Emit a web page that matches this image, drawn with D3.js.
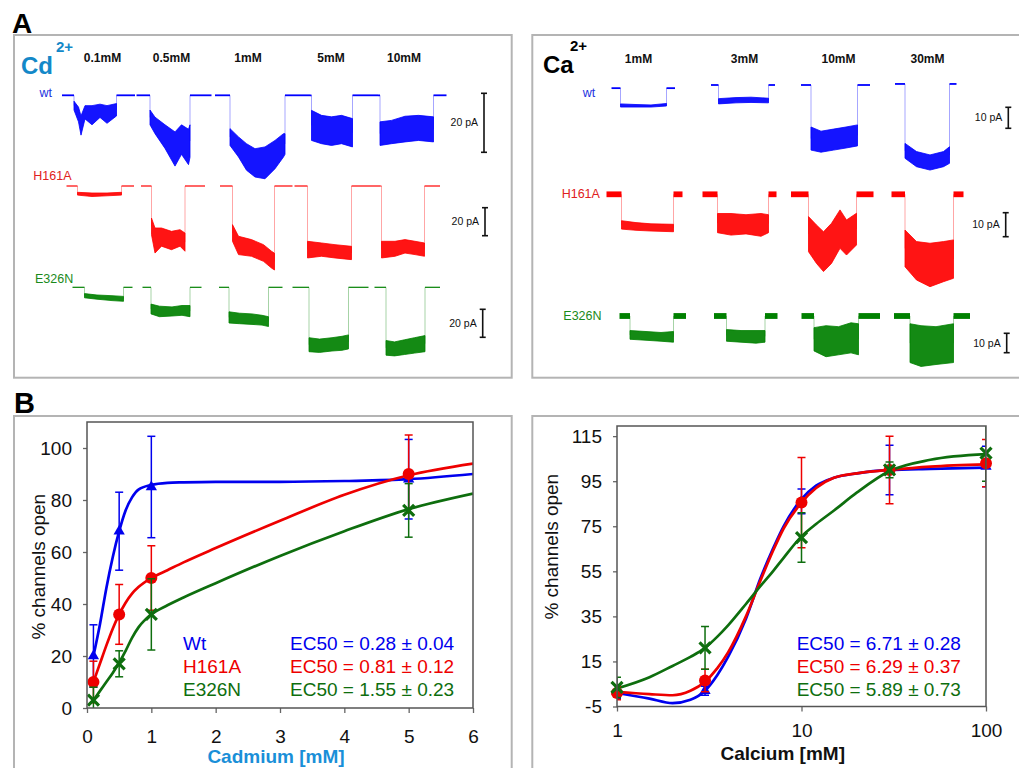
<!DOCTYPE html>
<html>
<head>
<meta charset="utf-8">
<script src="https://cdn.jsdelivr.net/npm/d3@7"></script>
<style>
  body { margin: 0; background: #fff; }
  svg { display: block; font-family: "Liberation Sans", Arial, sans-serif; }
</style>
</head>
<body>
<div id="fig"></div>
<script>
// ---------- panel A: current traces (time in s, current in pA) ----------
const cdConc = ["0.1mM", "0.5mM", "1mM", "5mM", "10mM"];
const cdConcT = [8.1, 21.9, 37.2, 53.8, 68.4];   // time under which each label sits
const caConc = ["1mM", "3mM", "10mM", "30mM"];
const caConcT = [6.5, 27.7, 46.5, 64.3];
const rowNames = ["wt", "H161A", "E326N"];

// each segment: on/off = time window, env = [t, upper, lower] of the blocked current
const cdWt = [
  { on: 0, off: 14.6, env: [[2.4, -2, -5], [3.3, -4, -9], [3.8, -7, -13.5], [4.6, -3.5, -8], [6, -3.5, -10], [7.6, -3, -7.5], [9, -3.5, -9.5], [10.9, -2.8, -7]] },
  { on: 14.9, off: 29.9, env: [[17.6, -5, -10], [18.6, -7.4, -13], [20.6, -10, -18], [22.6, -12.4, -24], [23.9, -10, -20], [25.3, -11.5, -23.5], [25.6, -10, -21]] },
  { on: 30.6, off: 49.6, env: [[33.6, -11.3, -17], [35.3, -14.1, -20.9], [36.9, -16.4, -25.4], [38.6, -18.1, -27.7], [40.6, -17.5, -28.3], [42.6, -15.3, -24.9], [44.3, -13, -20.9], [44.6, -13, -20]] },
  { on: 49.6, off: 63.2, env: [[49.9, -5.1, -15.3], [51.9, -6.8, -16.4], [53.9, -7.3, -17], [55.9, -6.8, -16.4], [58.1, -7.9, -17.5]] },
  { on: 63.2, off: 76.9, env: [[63.6, -9, -17], [65.9, -8.5, -16.4], [68.6, -7.1, -15.8], [71.3, -6.8, -15.3], [74.3, -7.3, -15.8]] }
];
const cdH161A = [
  { on: 0.9, off: 14.4, env: [[3.1, -4.5, -6.5], [6, -5, -7.5], [9, -5, -7], [11.9, -4.5, -6.5]] },
  { on: 15.8, off: 28.6, env: [[17.9, -22.9, -34.8], [18.6, -30, -47.9], [19.9, -30, -43], [21.9, -32.4, -45.5], [23.6, -31.2, -43], [24.6, -33.6, -46.6]] },
  { on: 31.6, off: 46.1, env: [[34.1, -27.6, -39.5], [35.3, -35.9, -49], [37.9, -38.3, -50.2], [40.3, -41.9, -53.8], [41.9, -46.6, -58.6], [42.5, -48, -60]] },
  { on: 46.5, off: 63.6, env: [[49.1, -39.5, -51.4], [51.9, -40.7, -50.2], [54.6, -41.9, -51.4], [57.9, -43.1, -52.6]] },
  { on: 63.6, off: 75.6, env: [[63.9, -39.5, -51.4], [66.6, -39.5, -50.2], [68.6, -38.3, -47.9], [70.6, -39.5, -49], [72.5, -40.7, -50.2]] }
];
const cdE326N = [
  { on: 2.1, off: 14.1, env: [[4.5, -4.5, -7.5], [7, -5.5, -8.5], [10, -6, -9.5], [12.3, -6.5, -10]] },
  { on: 16.1, off: 27.9, env: [[17.8, -12, -19], [19.5, -13.5, -21], [22, -14, -20.5], [24, -13, -20], [25.6, -13, -21]] },
  { on: 31.4, off: 44.1, env: [[33.4, -17.5, -25.5], [35.5, -18.5, -26], [38, -19, -26.5], [40, -20, -27], [41.3, -21, -28]] },
  { on: 46.1, off: 61.3, env: [[49.4, -36, -46], [51.5, -37, -46.5], [54, -36, -45.5], [56, -35, -45], [57.3, -34, -44]] },
  { on: 62.5, off: 75.6, env: [[64.8, -38, -48.5], [66.5, -39, -49], [68.5, -37.5, -48], [70.5, -36, -47], [72.6, -34.5, -46]] }
];

const caWt = [
  { on: 1.1, off: 13.8, base: -1.5, env: [[2.9, -9, -10.5], [6, -9.3, -10.5], [9, -9.5, -10.5], [12.1, -8.8, -10]] },
  { on: 21, off: 33.8, env: [[22.5, -6.5, -9], [26, -6, -8.5], [29, -5.8, -8.3], [32.5, -6.3, -8.5]] },
  { on: 39, off: 52.8, env: [[41, -20, -31], [43, -22, -32], [45.5, -21, -31], [48, -20, -30], [50.3, -19, -29]] },
  { on: 57.8, off: 70.1, base: 0.5, env: [[59.8, -27.8, -34.9], [62.1, -31.7, -38.9], [64.8, -33.3, -40.5], [67.5, -31.7, -38.9], [68.7, -29.4, -37.3]] }
];
const caH161A = [
  { on: 0.1, off: 15.3, env: [[3.1, -11, -14.5], [6, -11.8, -15], [9, -12.3, -15.3], [13.5, -12.5, -15.6]] },
  { on: 19.3, off: 34.1, env: [[22.3, -8, -16], [25, -8, -17], [28, -8.5, -16.5], [31, -8, -17.5], [32.5, -8.5, -16]] },
  { on: 37, off: 53.5, env: [[40.5, -9.3, -23.9], [42.1, -12.8, -28.8], [43.5, -15.6, -32.2], [45.1, -12.1, -28.8], [46.8, -6.5, -22.5], [48.1, -10.7, -25.3], [50.1, -7.9, -21.1]] },
  { on: 57.1, off: 71.5, env: [[59.8, -14.9, -30.2], [62.1, -19.7, -35.7], [64.8, -20.4, -38.5], [67.5, -19.7, -36.4], [69.5, -19, -35]] }
];
const caE326N = [
  { on: 2.7, off: 16, env: [[4.8, -7.5, -12], [8, -8, -12.5], [11, -8.5, -13], [13.5, -8, -13.5]] },
  { on: 21.6, off: 34.3, env: [[24.1, -7, -13], [27, -7.5, -13.5], [30, -7.5, -14], [31.8, -7.5, -13.5]] },
  { on: 39.1, off: 54.8, env: [[41.6, -6, -18], [44, -5, -21], [46.5, -5.5, -20], [49, -3.5, -19], [50.5, -4, -20]] },
  { on: 57.6, off: 72.8, env: [[60.8, -4, -24], [63, -5, -26], [66, -5.5, -25], [69.5, -4, -24]] }
];
const cdNoise = [0, 0, 0];       // baseline noise, pA
const caNoise = [0.3, 1.2, 1.5];
const cdBar = 20, caBar = 10;    // scale bars, pA

// ---------- panel B: dose response ----------
const cdX = [0.1, 0.5, 1, 5];
const cdWtY = [20, 68, 85, 88], cdWtErr = [12, 15, 19.5, 15.3];
const cdH161AY = [10, 36, 50, 90], cdH161AErr = [8, 11.5, 12.4, 15];
const cdE326NY = [3, 17, 36, 76], cdE326NErr = [5, 5, 13.7, 10.3];
const cdFitX = [0.1, 0.2, 0.3, 0.4, 0.5, 0.6, 0.7, 0.8, 1, 1.25, 1.5, 2, 3, 4, 5, 6];
const cdWtFit = [20, 32, 46, 58, 68, 76, 81, 84, 85.8, 86.6, 86.8, 87, 87, 87.3, 88, 90];
const cdH161AFit = [10, 17, 24, 30.5, 36, 40.5, 44, 46.5, 50, 53, 56, 61.5, 72, 82, 89.5, 94];
const cdE326NFit = [3, 6.5, 10, 13.5, 17.5, 22, 27, 31, 36, 39.5, 42.5, 48, 58.5, 68, 76.5, 82.5];
const cdEC50 = ["EC50 = 0.28 \u00b1 0.04", "EC50 = 0.81 \u00b1 0.12", "EC50 = 1.55 \u00b1 0.23"];

const caX = [1, 3, 10, 30, 100];
const caWtY = [1.5, 2, 86, 100, 101.5], caWtErr = [3, 2, 5.5, 11, 9];
const caH161AY = [1, 6.5, 85.5, 100, 103], caH161AErr = [3, 5, 20, 15, 10.5];
const caE326NY = [3.5, 21, 70, 100, 107.5], caE326NErr = [4.5, 9.5, 11, 3.5, 12.5];
const caFitX = [1, 1.5, 2, 2.5, 3, 3.5, 4, 5, 6, 7, 8, 10, 12, 15, 20, 30, 50, 100];
const caWtFit = [1, -1.5, -3.5, -2, 2, 9, 17, 34, 52, 65, 75, 87, 93, 96.5, 98.5, 100, 100.5, 101];
const caH161AFit = [1.5, 0.5, 0, 2, 6, 12, 19, 35, 51, 64, 74, 85.5, 92, 96.5, 98.5, 100, 101.5, 102.5];
const caE326NFit = [3, 8, 13, 17, 21, 26, 31, 40.5, 48.5, 55, 61, 70.5, 76, 82, 90, 99.5, 104.5, 107];
const caEC50 = ["EC50 = 6.71 \u00b1 0.28", "EC50 = 6.29 \u00b1 0.37", "EC50 = 5.89 \u00b1 0.73"];

const traceColors = ["#0000ff", "#ff0000", "#008000"];
const labelColors = ["#2233e0", "#e02020", "#1a8a1a"];
const fitColors = ["#0000ee", "#ee0000", "#0e6e0e"];

// ---------- drawing ----------
const W = 1019, H = 768;
const svg = d3.select("#fig").append("svg").attr("width", W).attr("height", H);
svg.append("rect").attr("width", W).attr("height", H).attr("fill", "#fff");

// frames
[[14, 35, 497.7, 342.7], [532.3, 35, 500, 342.7], [14, 416, 497.7, 360], [532.3, 416, 500, 360]]
  .forEach(b => svg.append("rect").attr("x", b[0]).attr("y", b[1]).attr("width", b[2]).attr("height", b[3])
    .attr("fill", "none").attr("stroke", "#b4b4b4").attr("stroke-width", 2));

svg.append("text").attr("x", 12).attr("y", 33).attr("font-size", 28).attr("font-weight", "bold").text("A");
svg.append("text").attr("x", 14).attr("y", 413).attr("font-size", 29).attr("font-weight", "bold").text("B");

function ion(g, x, baseY, sym, color) {
  g.append("text").attr("x", x).attr("y", baseY).attr("font-size", 24).attr("font-weight", "bold")
    .attr("fill", color).text(sym);
}

function traces(g, x, rows, noise, conc, concT) {
  rows.forEach((r, ri) => {
    const y = d3.scaleLinear().domain([0, -20]).range([r.y0, r.y0 + 20 * r.k]);
    const col = traceColors[ri];
    const n = noise[ri];
    r.segs.forEach(s => {
      const b = s.base || 0;
      const e = s.env;
      const drop = e[0][0], rise = e[e.length - 1][0];
      const mid0 = (e[0][1] + e[0][2]) / 2, mid1 = (e[e.length - 1][1] + e[e.length - 1][2]) / 2;
      // transitions (fast, faint)
      g.append("path")
        .attr("d", d3.line()([[x(drop), y(b)], [x(drop), y(mid0)]]) + d3.line()([[x(rise), y(mid1)], [x(rise), y(b)]]))
        .attr("stroke", col).attr("stroke-opacity", 0.35).attr("stroke-width", 1).attr("fill", "none");
      // baselines
      [[s.on, drop], [rise, s.off]].forEach(p => {
        if (n > 0.5) {
          g.append("rect").attr("x", x(p[0])).attr("width", x(p[1]) - x(p[0]))
            .attr("y", y(b + n)).attr("height", y(b - n) - y(b + n)).attr("fill", col);
        } else {
          g.append("line").attr("x1", x(p[0])).attr("x2", x(p[1])).attr("y1", y(b)).attr("y2", y(b))
            .attr("stroke", col).attr("stroke-width", ri === 0 ? 1.8 : 1.2);
        }
      });
      // blocked-current envelope
      g.append("path").datum(e)
        .attr("d", d3.area().x(d => x(d[0])).y0(d => y(d[2])).y1(d => y(d[1])))
        .attr("fill", col).attr("fill-opacity", 0.92)
        .attr("stroke", col).attr("stroke-width", 0.8);
    });
    // row label
    g.append("text").attr("x", r.lx).attr("y", r.ly).attr("font-size", 12.5)
      .attr("fill", labelColors[ri]).text(rowNames[ri]);
    // scale bar
    const len = y(-r.bar) - y(0);
    const bar = g.append("g").attr("stroke", "#111").attr("stroke-width", 1.6);
    bar.append("line").attr("x1", r.bx).attr("x2", r.bx).attr("y1", r.by).attr("y2", r.by + len);
    [r.by, r.by + len].forEach(v => bar.append("line").attr("x1", r.bx - 3).attr("x2", r.bx + 3).attr("y1", v).attr("y2", v));
    g.append("text").attr("x", r.bx - 6).attr("y", r.by + len / 2).attr("dy", "0.35em")
      .attr("text-anchor", "end").attr("font-size", 10.5).attr("fill", "#111").text(r.bar + " pA");
  });
  // concentration labels
  conc.forEach((c, i) => {
    g.append("text").attr("x", x(concT[i])).attr("y", rows[0].cy).attr("text-anchor", "middle")
      .attr("font-size", 12).attr("font-weight", "bold").attr("fill", "#111").text(c);
  });
}

// Cd traces
const gCd = svg.append("g");
ion(gCd, 21, 74, "Cd", "#1388c8");
gCd.append("text").attr("x", 56).attr("y", 51.7).attr("font-size", 15).attr("font-weight", "bold").attr("fill", "#1388c8").text("2+");
const xCd = d3.scaleLinear().domain([0, 77]).range([62, 447]);
traces(gCd, xCd, [
  { segs: cdWt, y0: 95.3, k: 2.95, lx: 39.5, ly: 96.7, bx: 484, by: 93.3, bar: cdBar, cy: 61.7 },
  { segs: cdH161A, y0: 186, k: 1.4, lx: 33.3, ly: 180, bx: 485, by: 207.7, bar: cdBar },
  { segs: cdE326N, y0: 287.3, k: 1.4, lx: 35, ly: 283.3, bx: 482.7, by: 309.3, bar: cdBar }
], cdNoise, cdConc, cdConcT);

// Ca traces
const gCa = svg.append("g");
ion(gCa, 543, 72.7, "Ca", "#000");
gCa.append("text").attr("x", 570).attr("y", 50.7).attr("font-size", 15).attr("font-weight", "bold").text("2+");
const xCa = d3.scaleLinear().domain([0, 73]).range([606, 971]);
traces(gCa, xCa, [
  { segs: caWt, y0: 85, k: 2.1, lx: 582.7, ly: 97, bx: 1008.3, by: 107.3, bar: caBar, cy: 63 },
  { segs: caH161A, y0: 194.3, k: 2.4, lx: 561.7, ly: 198.3, bx: 1005.7, by: 212.7, bar: caBar },
  { segs: caE326N, y0: 316, k: 1.94, lx: 563.3, ly: 320, bx: 1006.7, by: 333.3, bar: caBar }
], caNoise, caConc, caConcT);

// ---------- dose-response plots ----------
function marker(g, type, cx, cy, color) {
  if (type === "triangle") {
    g.append("path").attr("d", d3.symbol(d3.symbolTriangle, 55)()).attr("transform", `translate(${cx},${cy})`).attr("fill", color);
  } else if (type === "circle") {
    g.append("circle").attr("cx", cx).attr("cy", cy).attr("r", 6).attr("fill", color);
  } else {
    const s = 5.5;
    g.append("path").attr("d", `M${cx - s},${cy - s}L${cx + s},${cy + s}M${cx - s},${cy + s}L${cx + s},${cy - s}`)
      .attr("stroke", color).attr("stroke-width", 3.2).attr("fill", "none");
  }
}

function dose(opt) {
  const g = svg.append("g");
  const { x, y, xs, fitX, series } = opt;
  const [x0, x1] = x.range(), [y0, y1] = y.range();
  const clipId = opt.id + "Clip";
  g.append("clipPath").attr("id", clipId).append("rect").attr("x", x0).attr("y", y1).attr("width", x1 - x0).attr("height", y0 - y1);

  const xa = g.append("g").attr("transform", `translate(0,${y0})`).call(opt.xAxis);
  const ya = g.append("g").attr("transform", `translate(${x0},0)`).call(opt.yAxis);
  [xa, ya].forEach(a => {
    a.select(".domain").remove();
    a.selectAll(".tick line").attr("stroke", "#666").attr("stroke-width", 1.3);
    a.selectAll(".tick text").attr("font-size", 19).attr("fill", "#111").attr("font-family", "Liberation Sans, Arial, sans-serif");
  });

  const line = d3.line().x(d => x(d[0])).y(d => y(d[1])).curve(d3.curveMonotoneX);
  const curves = g.append("g").attr("clip-path", `url(#${clipId})`);
  series.forEach(s => {
    curves.append("path").datum(fitX.map((v, i) => [v, s.fit[i]])).attr("d", line)
      .attr("fill", "none").attr("stroke", s.color).attr("stroke-width", 2.7);
  });
  series.forEach(s => {
    const eb = g.append("g").attr("stroke", s.color).attr("stroke-width", 1.5).attr("clip-path", `url(#${clipId})`);
    xs.forEach((v, i) => {
      const cx = x(v), hi = y(s.y[i] + s.err[i]), lo = y(s.y[i] - s.err[i]);
      eb.append("line").attr("x1", cx).attr("x2", cx).attr("y1", hi).attr("y2", lo);
      [hi, lo].forEach(t => eb.append("line").attr("x1", cx - 4).attr("x2", cx + 4).attr("y1", t).attr("y2", t));
    });
    xs.forEach((v, i) => marker(g, s.marker, x(v), y(s.y[i]), s.color));
  });

  g.append("rect").attr("x", x0).attr("y", y1).attr("width", x1 - x0).attr("height", y0 - y1)
    .attr("fill", "none").attr("stroke", "#555").attr("stroke-width", 1.5);

  g.append("text").attr("transform", `translate(${opt.yTitle[0]},${opt.yTitle[1]}) rotate(-90)`)
    .attr("text-anchor", "middle").attr("dy", "0.35em").attr("font-size", 19).attr("fill", "#111").text("% channels open");
  g.append("text").attr("x", opt.xTitle[0]).attr("y", opt.xTitle[1]).attr("dy", "0.35em").attr("text-anchor", "middle")
    .attr("font-size", 19).attr("font-weight", "bold").attr("fill", opt.xTitleColor).text(opt.xLabel);

  series.forEach((s, i) => {
    if (opt.names) g.append("text").attr("x", opt.nameX).attr("y", opt.legY[i]).attr("dy", "0.35em")
      .attr("font-size", 19).attr("fill", s.color).text(opt.names[i]);
    g.append("text").attr("x", opt.ecX).attr("y", opt.legY[i]).attr("dy", "0.35em")
      .attr("font-size", 19).attr("fill", s.color).text(opt.ec[i]);
  });
}

const plain = d => String(d);

const xCdB = d3.scaleLinear().domain([0, 6]).range([87, 473]);
const yCdB = d3.scaleLinear().domain([0, 110]).range([708, 422]);
dose({
  id: "cd", x: xCdB, y: yCdB, xs: cdX, fitX: cdFitX,
  xAxis: d3.axisBottom(xCdB).ticks(6).tickSize(5).tickPadding(17).tickFormat(plain),
  yAxis: d3.axisLeft(yCdB).tickValues([0, 20, 40, 60, 80, 100]).tickSize(4).tickPadding(11).tickFormat(plain),
  series: [
    { y: cdWtY, err: cdWtErr, fit: cdWtFit, color: fitColors[0], marker: "triangle" },
    { y: cdH161AY, err: cdH161AErr, fit: cdH161AFit, color: fitColors[1], marker: "circle" },
    { y: cdE326NY, err: cdE326NErr, fit: cdE326NFit, color: fitColors[2], marker: "cross" }
  ],
  yTitle: [38.3, 566.7], xTitle: [276, 756], xTitleColor: "#1a8fd8", xLabel: "Cadmium [mM]",
  names: ["Wt", "H161A", "E326N"], nameX: 183, ecX: 290, legY: [643, 666.5, 689.3], ec: cdEC50
});

const xCaB = d3.scaleLog().domain([1, 100]).range([617, 986]);
const yCaB = d3.scaleLinear().domain([-5, 119.5]).range([706.5, 426]);
dose({
  id: "ca", x: xCaB, y: yCaB, xs: caX, fitX: caFitX,
  xAxis: d3.axisBottom(xCaB).tickValues([1, 10, 100]).tickSize(5).tickPadding(12).tickFormat(plain),
  yAxis: d3.axisLeft(yCaB).tickValues([-5, 15, 35, 55, 75, 95, 115]).tickSize(4).tickPadding(11).tickFormat(plain),
  series: [
    { y: caWtY, err: caWtErr, fit: caWtFit, color: fitColors[0], marker: "triangle" },
    { y: caH161AY, err: caH161AErr, fit: caH161AFit, color: fitColors[1], marker: "circle" },
    { y: caE326NY, err: caE326NErr, fit: caE326NFit, color: fitColors[2], marker: "cross" }
  ],
  yTitle: [551.7, 546.7], xTitle: [782.7, 753], xTitleColor: "#111", xLabel: "Calcium [mM]",
  ecX: 796.7, legY: [643, 666.5, 689.3], ec: caEC50
});
</script>
</body>
</html>
